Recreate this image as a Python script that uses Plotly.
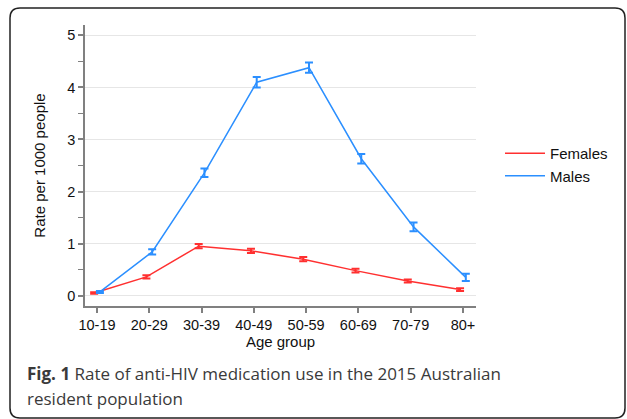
import plotly.graph_objects as go

age_groups = ["10-19", "20-29", "30-39", "40-49", "50-59", "60-69", "70-79", "80+"]
females = [0.05, 0.36, 0.95, 0.86, 0.70, 0.48, 0.28, 0.115]
females_err = [0.015, 0.03, 0.04, 0.04, 0.04, 0.035, 0.03, 0.025]
males = [0.07, 0.84, 2.36, 4.10, 4.38, 2.63, 1.32, 0.35]
males_err = [0.02, 0.05, 0.08, 0.10, 0.10, 0.09, 0.085, 0.07]
ticks_y = [0, 1, 2, 3, 4, 5]

RED = "#ff3030"
BLUE = "#2b8fff"
OFFSET = 0.055

W, H = 627, 419
ML, MR, MT, MB = 85, 151, 25, 113
PW, PH = W - ML - MR, H - MT - MB

fig = go.Figure()
fig.add_trace(go.Scatter(
    x=[i - OFFSET for i in range(len(age_groups))], y=females, name="Females",
    mode="lines", line=dict(color=RED, width=1.5),
    error_y=dict(type="data", array=females_err, color=RED, thickness=2, width=4),
))
fig.add_trace(go.Scatter(
    x=[i + OFFSET for i in range(len(age_groups))], y=males, name="Males",
    mode="lines", line=dict(color=BLUE, width=1.5),
    error_y=dict(type="data", array=males_err, color=BLUE, thickness=2, width=4),
))

def px(xp):
    return (xp - ML) / PW

def py(yp):
    return (H - MB - yp) / PH

# rounded frame around whole figure
x0, x1, y0, y1, r = 10, 625, 8, 418, 10
path = (
    f"M {px(x0 + r)} {py(y0)} L {px(x1 - r)} {py(y0)} "
    f"Q {px(x1)} {py(y0)} {px(x1)} {py(y0 + r)} "
    f"L {px(x1)} {py(y1 - r)} Q {px(x1)} {py(y1)} {px(x1 - r)} {py(y1)} "
    f"L {px(x0 + r)} {py(y1)} Q {px(x0)} {py(y1)} {px(x0)} {py(y1 - r)} "
    f"L {px(x0)} {py(y0 + r)} Q {px(x0)} {py(y0)} {px(x0 + r)} {py(y0)} Z"
)
fig.add_shape(type="path", path=path, xref="paper", yref="paper",
              line=dict(color="#222222", width=1.5), layer="above")

cap_font = dict(family="Open Sans", size=17, color="#3a3a3a")
fig.add_annotation(
    text="<b>Fig. 1</b> Rate of anti-HIV medication use in the 2015 Australian",
    xref="paper", yref="paper", x=px(25), y=py(373), xanchor="left", yanchor="middle",
    align="left", showarrow=False, font=cap_font,
)
fig.add_annotation(
    text="resident population",
    xref="paper", yref="paper", x=px(25), y=py(398), xanchor="left", yanchor="middle",
    align="left", showarrow=False, font=cap_font,
)

fig.update_layout(
    width=W, height=H,
    margin=dict(l=ML, r=MR, t=MT, b=MB),
    paper_bgcolor="white", plot_bgcolor="white",
    font=dict(family="Liberation Sans, Arial, sans-serif", size=14.5, color="#111111"),
    showlegend=True,
    legend=dict(x=px(500), y=py(137), xanchor="left", yanchor="top",
                font=dict(size=15), bgcolor="rgba(0,0,0,0)", itemwidth=40,
                tracegroupgap=0),
    xaxis=dict(
        range=[-0.23, 7.25], tickmode="array", tickvals=list(range(len(age_groups))),
        ticktext=age_groups, showgrid=False, zeroline=False,
        showline=True, linecolor="#808080", linewidth=1.5,
        ticks="outside", ticklen=5, tickcolor="#808080", tickwidth=1.5,
        title=dict(text="Age group", standoff=0, font=dict(size=15)),
    ),
    yaxis=dict(
        range=[-0.2, 5.2], tickmode="array", tickvals=ticks_y,
        showgrid=True, gridcolor="#e6e6e6", gridwidth=1, zeroline=False,
        showline=True, linecolor="#808080", linewidth=1.5,
        ticks="outside", ticklen=5, tickcolor="#808080", tickwidth=1.5,
        minor=dict(dtick=0.5, tick0=0, ticks="outside", ticklen=5,
                   tickcolor="#808080", tickwidth=1, showgrid=False),
        title=dict(text="Rate per 1000 people", standoff=18, font=dict(size=15)),
    ),
)

fig.write_html("out.html", config={"displayModeBar": False},
               post_script="document.body.style.margin='0';")
